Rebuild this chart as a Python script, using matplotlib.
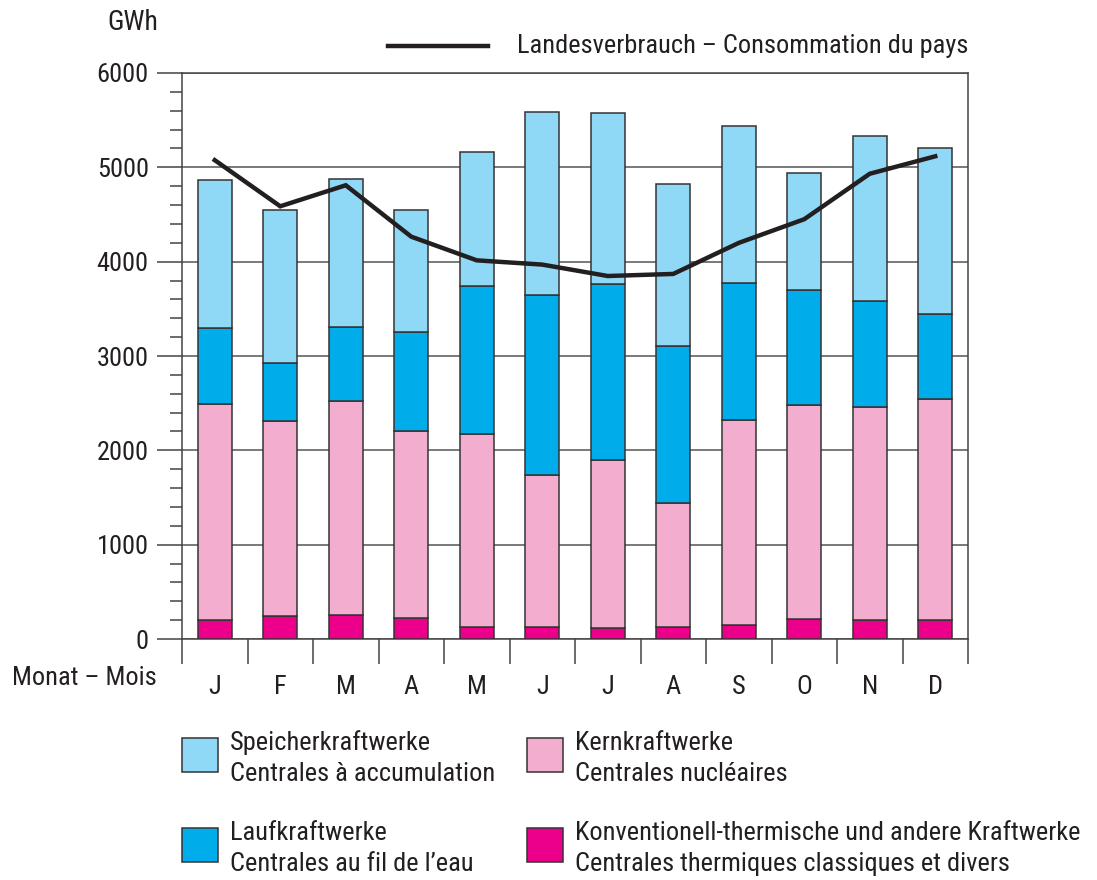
import numpy as np
import matplotlib
matplotlib.use("Agg")
from matplotlib import pyplot as plt
from matplotlib.patches import Rectangle
from matplotlib.lines import Line2D

# Monthly electricity production by plant type (GWh), stacked bars + national consumption line
months = ["J", "F", "M", "A", "M", "J", "J", "A", "S", "O", "N", "D"]
thermal = [197, 246, 258, 227, 129, 125, 118, 129, 152, 216, 197, 205]
nuclear = [2290, 2063, 2270, 1979, 2039, 1611, 1777, 1311, 2168, 2267, 2263, 2342]
run_of_river = [815, 621, 781, 1046, 1570, 1914, 1869, 1661, 1459, 1217, 1118, 903]
storage = [1569, 1623, 1570, 1301, 1425, 1938, 1808, 1721, 1657, 1243, 1752, 1759]
consumption = [5076, 4587, 4810, 4265, 4014, 3969, 3848, 3870, 4199, 4450, 4932, 5117]

col_storage = "#8fd8f6"
col_river = "#00acea"
col_nuclear = "#f3aecf"
col_thermal = "#ec008b"
edge = "#333333"
ink = "#231f20"

plt.rcParams["font.family"] = ["Roboto Condensed", "Roboto", "DejaVu Sans"]
plt.rcParams["font.size"] = 19
plt.rcParams["text.color"] = ink

W, H = 1097, 880
fig = plt.figure(figsize=(W / 100, H / 100), dpi=100)
ax = fig.add_axes([182 / W, 1 - 639 / H, (968 - 182) / W, (639 - 73) / H])

x = np.arange(len(months))
bw = 0.52
kw = dict(width=bw, edgecolor=edge, linewidth=1.1, zorder=3)
b0 = np.zeros(len(months))
ax.bar(x, thermal, bottom=b0, color=col_thermal, **kw)
b0 = b0 + np.array(thermal)
ax.bar(x, nuclear, bottom=b0, color=col_nuclear, **kw)
b0 = b0 + np.array(nuclear)
ax.bar(x, run_of_river, bottom=b0, color=col_river, **kw)
b0 = b0 + np.array(run_of_river)
ax.bar(x, storage, bottom=b0, color=col_storage, **kw)

ax.plot(x, consumption, color=ink, linewidth=3.2, zorder=5, solid_joinstyle="miter")

ax.set_xlim(-0.5, 11.5)
ax.set_ylim(0, 6000)

# y axis
ax.set_yticks(np.arange(0, 6001, 1000))
ax.set_yticks(np.arange(0, 6001, 200), minor=True)
ax.tick_params(axis="y", which="major", direction="out", length=18, width=1.1,
               color="#444444", pad=6, labelsize=19, labelcolor=ink)
ax.tick_params(axis="y", which="minor", direction="out", length=9, width=1.1, color="#444444")
ax.yaxis.grid(True, which="major", color="#555555", linewidth=1.1, zorder=0)
ax.set_axisbelow(True)

# x axis: labels at centres, separator ticks between months
ax.set_xticks(x)
ax.set_xticklabels(months)
ax.set_xticks(np.arange(-0.5, 12, 1), minor=True)
ax.tick_params(axis="x", which="major", length=0, pad=26, labelsize=19, labelcolor=ink)
ax.tick_params(axis="x", which="minor", direction="out", length=18, width=1.1, color="#444444")

for s in ["left", "right", "bottom", "top"]:
    ax.spines[s].set_color("#444444")
    ax.spines[s].set_linewidth(1.1)

fig.text(158 / W, 1 - 23 / H, "GWh", ha="right", va="center", fontsize=20)
fig.text(157 / W, 1 - 678 / H, "Monat \u2013 Mois", ha="right", va="center", fontsize=19)

# legend for the line
fig.add_artist(Line2D([388 / W, 488 / W], [1 - 46 / H, 1 - 46 / H], color=ink, linewidth=3.2))
fig.text(517 / W, 1 - 46 / H, "Landesverbrauch \u2013 Consommation du pays", ha="left", va="center", fontsize=19)

# legend for the bars
legend_items = [
    (182, 738, col_storage, "Speicherkraftwerke", "Centrales \u00e0 accumulation"),
    (527, 738, col_nuclear, "Kernkraftwerke", "Centrales nucl\u00e9aires"),
    (182, 828, col_river, "Laufkraftwerke", "Centrales au fil de l\u2019eau"),
    (527, 828, col_thermal, "Konventionell-thermische und andere Kraftwerke",
     "Centrales thermiques classiques et divers"),
]
for px, py, c, l1, l2 in legend_items:
    fig.add_artist(Rectangle((px / W, 1 - (py + 34) / H), 36 / W, 34 / H,
                             facecolor=c, edgecolor=edge, linewidth=1.1))
    fig.text((px + 48) / W, 1 - (py + 5) / H, l1, ha="left", va="center", fontsize=19)
    fig.text((px + 48) / W, 1 - (py + 36) / H, l2, ha="left", va="center", fontsize=19)

fig.savefig("out.png", dpi=100)
